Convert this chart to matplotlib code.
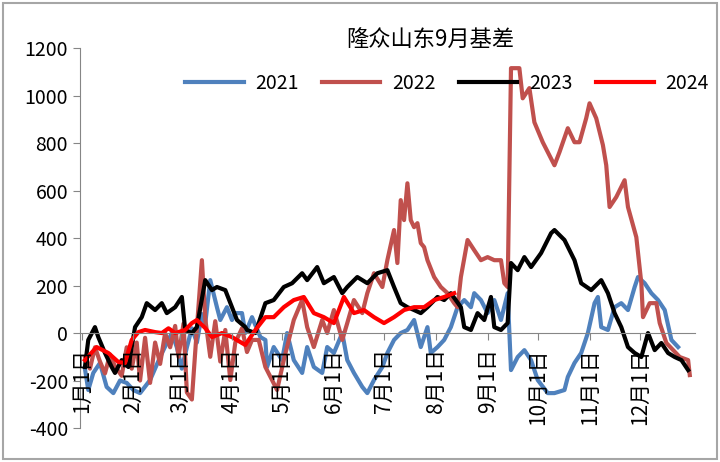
import numpy as np
import matplotlib
matplotlib.use("Agg")
import matplotlib.pyplot as plt
from matplotlib.patches import Rectangle

plt.rcParams['font.family'] = ['Noto Sans CJK SC', 'DejaVu Sans']
plt.rcParams['axes.unicode_minus'] = False

# day of year (0 = 1月1日) and basis values
day_2021 = [2, 4, 7, 11, 15, 19, 23, 27, 31, 35, 41, 47, 51, 54, 57, 60, 63, 66, 69, 72, 74, 77,
            81, 83, 87, 90, 92, 96, 98, 102, 107, 110, 111, 115, 120, 123, 127, 132, 135, 139,
            144, 147, 151, 156, 159, 163, 168, 171, 175, 180, 183, 187, 191, 195, 199, 203, 207,
            209, 213, 217, 221, 225, 229, 233, 235, 239, 243, 247, 251, 255, 257, 261, 265, 269,
            273, 279, 283, 289, 291, 295, 299, 303, 307, 309, 311, 315, 319, 323, 327, 331, 333,
            337, 341, 345, 349, 353, 357]
val_2021 = [-150, -240, -168, -126, -227, -253, -200, -210, -240, -253, -198, -101, -42, 0, -60,
            -150, -60, 20, -40, 80, 40, 223, 109, 55, 109, 55, 84, 84, 0, 67, -17, -29, -143, -59,
            -114, 0, -114, -168, -59, -143, -168, -59, -84, 0, -114, -168, -227, -253, -198, -143,
            -84, -29, 0, 13, 55, -59, 25, -84, -59, -29, 25, 109, 139, 109, 168, 139, 84, 139, 55,
            168, -156, -101, -72, -114, -198, -253, -253, -240, -185, -126, -84, 0, 126, 152, 25,
            13, 109, 126, 97, 194, 236, 210, 168, 139, 97, -29, -59]

day_2022 = [2, 5, 8, 11, 14, 17, 20, 24, 27, 30, 33, 35, 38, 41, 44, 47, 50, 53, 56, 58, 61, 63,
            66, 69, 72, 74, 77, 80, 83, 86, 89, 92, 96, 99, 102, 106, 110, 114, 117, 121, 127,
            132, 135, 139, 144, 147, 151, 156, 159, 163, 168, 171, 175, 180, 183, 187, 189, 191,
            193, 195, 197, 199, 201, 203, 205, 207, 211, 215, 219, 223, 225, 227, 231, 235, 239,
            243, 247, 251, 253, 255, 257, 262, 264, 268, 271, 276, 283, 286, 291, 295, 298, 302,
            304, 308, 312, 314, 316, 320, 325, 327, 332, 335, 336, 340, 344, 346, 350, 358, 363,
            364]
val_2022 = [-100, -150, -60, -120, -170, -90, -140, -180, -60, -150, -40, -200, -20, -210, -40,
            -130, 0, -60, 30, -100, 40, -250, -280, 20, 307, 60, -100, 50, -120, 13, -198, -40, 20,
            -80, -29, -29, -143, -198, -240, -114, 55, 139, 25, -59, 55, 0, 97, -29, 42, 139, 84,
            168, 252, 194, 307, 434, 295, 560, 476, 631, 476, 446, 463, 379, 362, 307, 236, 194,
            168, 126, 109, 236, 392, 349, 307, 320, 307, 307, 210, 194, 1116, 1116, 989, 1032, 888,
            804, 707, 762, 863, 804, 804, 905, 968, 905, 792, 707, 531, 573, 644, 531, 404, 210, 67,
            126, 126, 42, -42, -101, -114, -177]

day_2023 = [2, 4, 8, 10, 14, 18, 20, 24, 28, 32, 36, 39, 44, 48, 51, 56, 60, 62, 66, 69, 74, 78,
            81, 86, 90, 93, 98, 99, 104, 110, 115, 121, 126, 132, 135, 141, 145, 151, 156, 159,
            165, 171, 177, 183, 187, 191, 195, 199, 203, 207, 213, 217, 221, 227, 229, 233, 237,
            241, 245, 247, 251, 255, 257, 261, 265, 269, 275, 281, 283, 289, 295, 299, 305, 311,
            315, 319, 323, 327, 331, 335, 339, 343, 347, 351, 355, 359, 363]
val_2023 = [-143, -29, 25, -17, -84, -143, -168, -114, -143, 25, 67, 126, 97, 126, 84, 109, 152,
            13, 0, 25, 223, 181, 194, 181, 109, 55, 25, 13, 0, 126, 139, 194, 210, 252, 223, 278,
            210, 236, 168, 194, 236, 210, 252, 265, 194, 126, 109, 97, 84, 109, 152, 139, 168, 109,
            25, 13, 84, 55, 152, 25, 13, 42, 295, 265, 320, 278, 337, 421, 434, 392, 307, 210, 181,
            223, 168, 84, 25, -59, -84, -101, 0, -72, -42, -84, -101, -114, -156]

day_2024 = [2, 9, 16, 22, 26, 30, 34, 38, 44, 48, 52, 56, 62, 66, 69, 74, 78, 84, 90, 96, 98, 104,
            110, 115, 121, 127, 133, 139, 145, 151, 157, 163, 169, 175, 181, 187, 193, 199, 205,
            211, 217, 223]
val_2024 = [-114, -59, -84, -122, -126, -29, 4, 13, 4, 0, 20, 0, 13, 42, 55, 21, -17, 0, -17, -42,
            -50, 13, 67, 67, 109, 139, 152, 84, 67, 42, 152, 84, 97, 67, 42, 67, 97, 109, 109,
            139, 152, 168]

month_days = [0, 31, 59, 90, 120, 151, 181, 212, 243, 273, 304, 334]
month_labels = ['%d月1日' % m for m in range(1, 13)]

fig = plt.figure(figsize=(7.2, 4.62), dpi=100)
ax = fig.add_axes([0.111, 0.0736, 0.854, 0.822])

ax.plot(day_2021, val_2021, color='#4F81BD', lw=3, label='2021')
ax.plot(day_2022, val_2022, color='#C0504D', lw=3, label='2022')
ax.plot(day_2023, val_2023, color='black', lw=3, label='2023')
ax.plot(day_2024, val_2024, color='#FF0000', lw=3, label='2024')

ax.set_xlim(-1, 367)
ax.set_ylim(-400, 1200)
ax.set_yticks(range(-400, 1201, 200))
ax.set_xticks(month_days)
ax.set_xticklabels(month_labels)
ax.tick_params(axis='y', labelsize=14, length=5, color='#868686')
ax.tick_params(axis='x', labelsize=15, length=5, color='#868686', pad=6, labelrotation=90)

for s in ['top', 'right']:
    ax.spines[s].set_visible(False)
ax.spines['left'].set_color('#868686')
ax.spines['bottom'].set_color('#868686')
ax.spines['bottom'].set_position(('data', 0))
# month labels sit on top of the lines, like in the original
ax.xaxis.set_zorder(5)

fig.text(0.597, 0.913, '隆众山东9月基差', fontsize=16, ha='center', va='center')
fig.legend(loc='center', bbox_to_anchor=(0.621, 0.82), ncol=4, frameon=False,
           fontsize=14, handlelength=3.0, columnspacing=1.2, handletextpad=0.6)

fig.patches.append(Rectangle((0.004, 0.006), 0.992, 0.988, transform=fig.transFigure,
                             fill=False, edgecolor='#A6A6A6', lw=1.5))

fig.savefig('out.png', dpi=100)
